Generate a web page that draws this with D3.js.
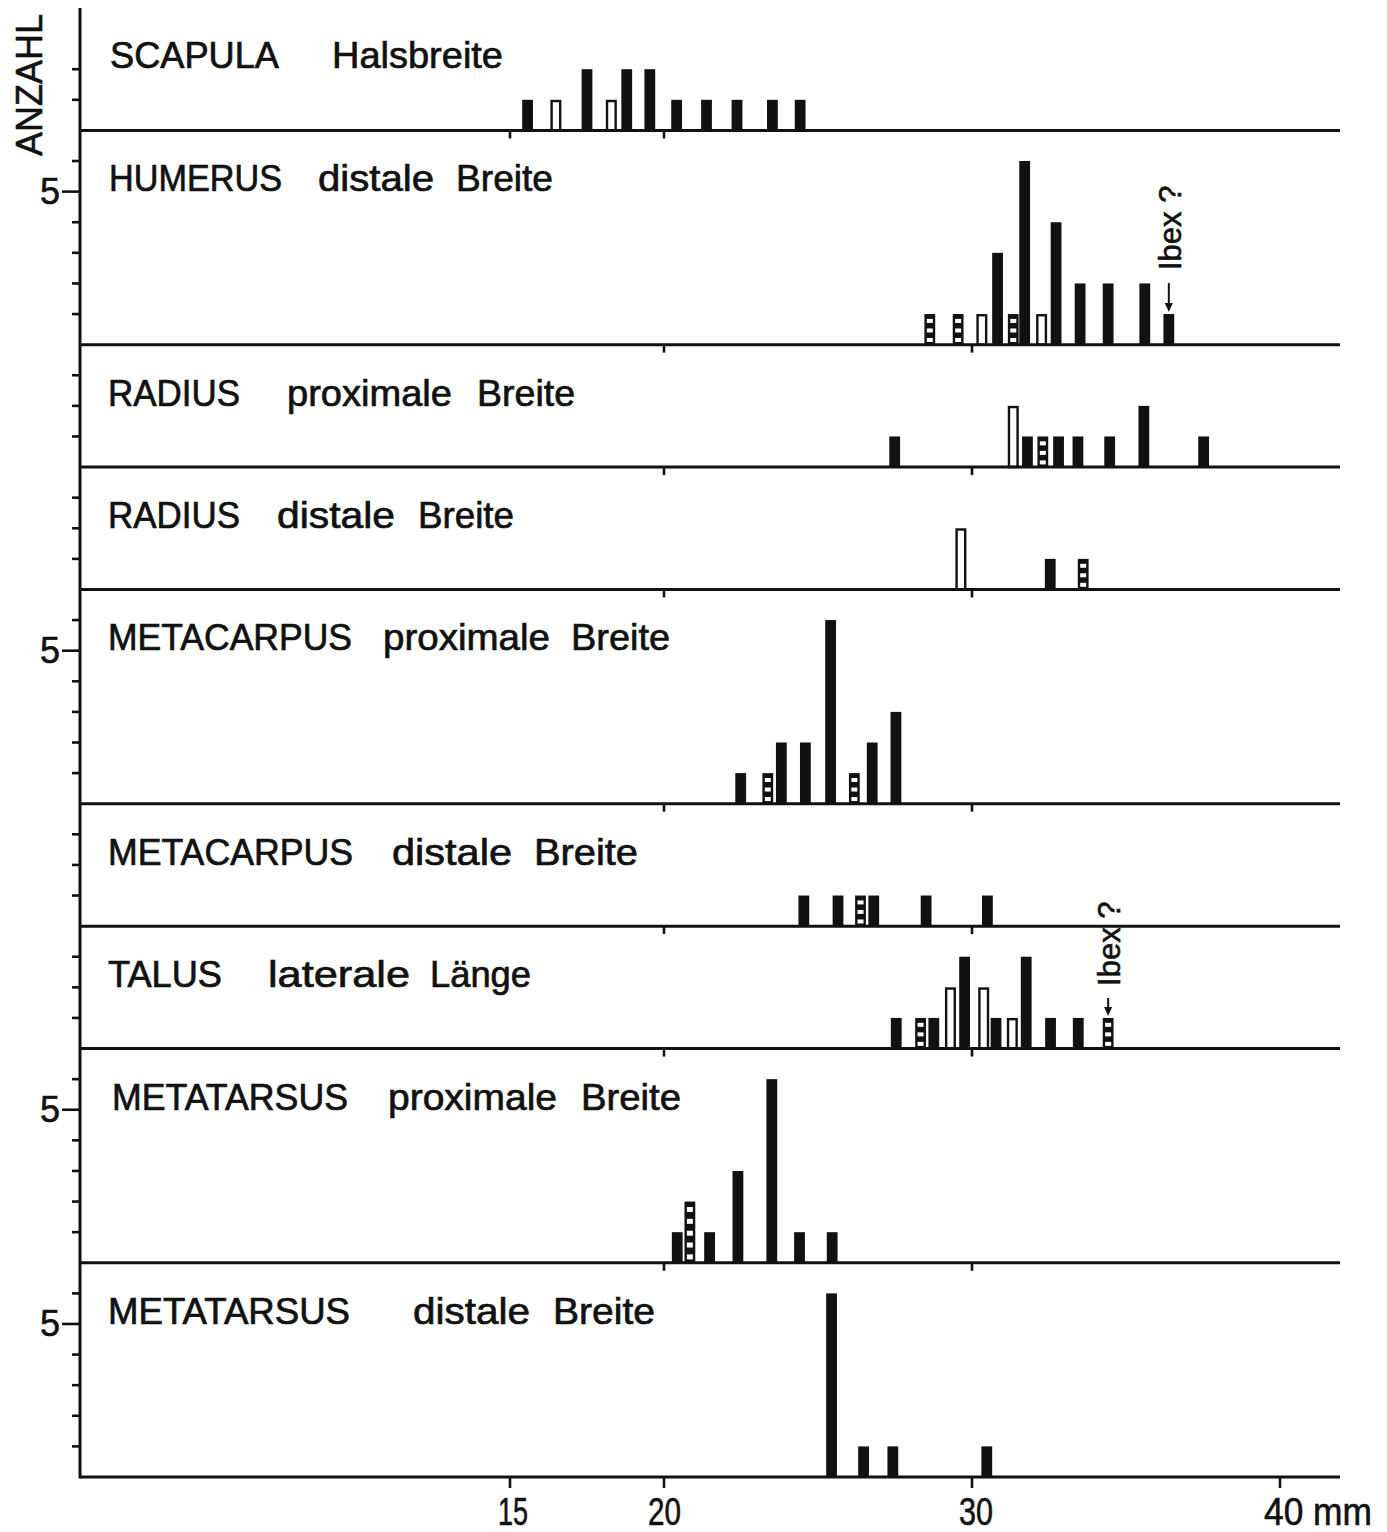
<!DOCTYPE html>
<html>
<head>
<meta charset="utf-8">
<script src="https://cdn.jsdelivr.net/npm/d3@7"></script>
<style>
  body { margin: 0; background: #fff; }
  svg { display: block; }
</style>
</head>
<body>
<svg id="chart" width="1387" height="1532"></svg>
<script>
// ---------------- DATA ----------------
const panelKeys = ["scapula", "humerus", "radiusProx", "radiusDist", "mcProx", "mcDist", "talus", "mtProx", "mtDist"];
const panelWords = [
  ["SCAPULA", "Halsbreite"],
  ["HUMERUS", "distale", "Breite"],
  ["RADIUS", "proximale", "Breite"],
  ["RADIUS", "distale", "Breite"],
  ["METACARPUS", "proximale", "Breite"],
  ["METACARPUS", "distale", "Breite"],
  ["TALUS", "laterale", "Länge"],
  ["METATARSUS", "proximale", "Breite"],
  ["METATARSUS", "distale", "Breite"]
];
const panelMaxCount = [4, 7, 4, 4, 7, 4, 4, 7, 7];
const panelCountTicks = [
  [1, 2],
  [1, 2, 3, 4, 5, 6],
  [1, 2, 3],
  [1, 2, 3],
  [1, 2, 3, 4, 5, 6],
  [1, 2, 3],
  [1, 2, 3],
  [1, 2, 3, 4, 5, 6],
  [1, 2, 3, 4, 5, 6]
];
const countLabel = 5;
const yTitle = "ANZAHL";

// Bars: measurement class position (mm), count, type (b = black, w = white, s = striped)
const scapulaMM   = [15.57, 16.49, 17.5, 18.29, 18.79, 19.54, 20.41, 21.38, 22.37, 23.52, 24.42];
const scapulaN    = [1, 1, 2, 1, 2, 2, 1, 1, 1, 1, 1];
const scapulaType = ["b", "w", "b", "w", "b", "b", "b", "b", "b", "b", "b"];

const humerusMM   = [28.63, 29.55, 30.32, 30.83, 31.34, 31.71, 32.26, 32.73, 33.51, 34.42, 35.61, 36.39];
const humerusN    = [1, 1, 1, 3, 1, 6, 1, 4, 2, 2, 2, 1];
const humerusType = ["s", "s", "w", "b", "s", "b", "w", "b", "b", "b", "b", "b"];

const radiusProxMM   = [27.49, 31.34, 31.8, 32.3, 32.81, 33.44, 34.47, 35.58, 37.52];
const radiusProxN    = [1, 2, 1, 1, 1, 1, 1, 2, 1];
const radiusProxType = ["b", "w", "b", "s", "b", "b", "b", "b", "b"];

const radiusDistMM   = [29.64, 32.54, 33.61];
const radiusDistN    = [2, 1, 1];
const radiusDistType = ["w", "b", "s"];

const mcProxMM   = [22.49, 23.37, 23.81, 24.59, 25.41, 26.18, 26.76, 27.53];
const mcProxN    = [1, 1, 2, 2, 6, 1, 2, 3];
const mcProxType = ["b", "s", "b", "b", "b", "s", "b", "b"];

const mcDistMM   = [24.54, 25.65, 26.38, 26.81, 28.51, 30.5];
const mcDistN    = [1, 1, 1, 1, 1, 1];
const mcDistType = ["b", "b", "s", "b", "b", "b"];

const talusMM   = [27.54, 28.33, 28.76, 29.3, 29.76, 30.38, 30.78, 31.31, 31.76, 32.55, 33.45, 34.42];
const talusN    = [1, 1, 1, 2, 3, 2, 1, 1, 3, 1, 1, 1];
const talusType = ["b", "s", "b", "w", "b", "w", "b", "w", "b", "b", "b", "s"];

const mtProxMM   = [20.43, 20.84, 21.48, 22.4, 23.5, 24.4, 25.46];
const mtProxN    = [1, 2, 1, 3, 6, 1, 1];
const mtProxType = ["b", "s", "b", "b", "b", "b", "b"];

const mtDistMM   = [25.44, 26.48, 27.43, 30.48];
const mtDistN    = [6, 1, 1, 1];
const mtDistType = ["b", "b", "b", "b"];

const xTickValues = [15, 20, 30, 40];
const xTickLabels = ["15", "20", "30", "40 mm"];

const ibexPanels = ["humerus", "talus"];
const ibexMM = [36.39, 34.42];
const ibexText = "Ibex ?";

const panelData = {
  scapula: [scapulaMM, scapulaN, scapulaType],
  humerus: [humerusMM, humerusN, humerusType],
  radiusProx: [radiusProxMM, radiusProxN, radiusProxType],
  radiusDist: [radiusDistMM, radiusDistN, radiusDistType],
  mcProx: [mcProxMM, mcProxN, mcProxType],
  mcDist: [mcDistMM, mcDistN, mcDistType],
  talus: [talusMM, talusN, talusType],
  mtProx: [mtProxMM, mtProxN, mtProxType],
  mtDist: [mtDistMM, mtDistN, mtDistType]
};

// ---------------- LAYOUT ----------------
const axisX = 80, lineEndX = 1340, topY = 8, bottomY = 1477;
const font = "'Liberation Sans', Arial, sans-serif";
const wordX = [
  [110, 332],
  [109, 318, 456],
  [108, 287, 477],
  [108, 277, 418],
  [108, 383, 571],
  [108, 392, 534],
  [108, 268, 430],
  [112, 388, 581],
  [108, 413, 553]
];
const wordW = [
  [169, 171],
  [173, 116, 97],
  [132, 165, 98],
  [132, 118, 96],
  [244, 167, 99],
  [245, 120, 104],
  [114, 142, 101],
  [236, 169, 100],
  [242, 117, 102]
];

const svg = d3.select("#chart");
const x = d3.scaleLinear().domain([20, 40]).range([664, 1280]);
const totalCounts = d3.sum(panelMaxCount);
const y = d3.scaleLinear().domain([0, totalCounts]).range([bottomY, topY]);

// count offset of each panel's baseline (from the bottom)
const offsets = panelMaxCount.map((_, i) => d3.sum(panelMaxCount.slice(i + 1)));

const g = svg.append("g");

panelKeys.forEach((key, i) => {
  const off = offsets[i];
  const base = y(off);
  const top = y(off + panelMaxCount[i]);
  const pg = g.append("g").attr("class", "panel-" + key);

  // left count ticks
  pg.selectAll("line.ytick").data(panelCountTicks[i]).join("line")
    .attr("class", "ytick")
    .attr("x1", d => d === countLabel ? axisX - 18 : axisX - 8)
    .attr("x2", axisX)
    .attr("y1", d => y(off + d)).attr("y2", d => y(off + d))
    .attr("stroke", "#111").attr("stroke-width", 2.6);
  pg.selectAll("text.ylab").data(panelCountTicks[i].filter(d => d === countLabel)).join("text")
    .attr("class", "ylab")
    .attr("x", axisX - 20).attr("y", d => y(off + d))
    .attr("text-anchor", "end").attr("dominant-baseline", "central")
    .attr("font-family", font).attr("font-size", 36).attr("fill", "#111")
    .attr("stroke", "#111").attr("stroke-width", 0.6)
    .text(d => d);

  // small ticks under the baseline
  const subT = i === panelKeys.length - 1 ? [] : (i === 0 ? [15, 20] : [20, 30]);
  pg.selectAll("line.xsub").data(subT).join("line")
    .attr("class", "xsub")
    .attr("x1", d => x(d)).attr("x2", d => x(d))
    .attr("y1", base).attr("y2", base + 8)
    .attr("stroke", "#111").attr("stroke-width", 2.6);

  // bars
  const [mm, n, type] = panelData[key];
  const bars = mm.map((v, j) => ({ v, n: n[j], t: type[j] }));
  bars.forEach(b => {
    const cx = x(b.v);
    const y1 = y(off + b.n);
    const h = base - y1;
    if (b.t === "w") {
      pg.append("rect")
        .attr("x", cx - 4.3).attr("y", y1 + 1.2)
        .attr("width", 8.6).attr("height", h - 1.2)
        .attr("fill", "#fff").attr("stroke", "#111").attr("stroke-width", 2.4);
    } else {
      pg.append("rect")
        .attr("x", cx - 5.4).attr("y", y1)
        .attr("width", 10.8).attr("height", h)
        .attr("fill", "#111");
      if (b.t === "s") {
        const k = Math.max(3, Math.round(h / 12));
        const p = (h - 2) / k;
        d3.range(k).forEach(q => {
          pg.append("rect")
            .attr("x", cx - 3).attr("y", y1 + 2.5 + q * p + p * 0.25)
            .attr("width", 6).attr("height", p * 0.42)
            .attr("fill", "#fff");
        });
      }
    }
  });

  // baseline
  pg.append("line")
    .attr("x1", axisX).attr("x2", lineEndX)
    .attr("y1", base).attr("y2", base)
    .attr("stroke", "#111").attr("stroke-width", 3);

  // label words
  panelWords[i].forEach((w, j) => {
    pg.append("text")
      .attr("x", wordX[i][j]).attr("y", top + 61 - (i === 0 ? 1 : 0))
      .attr("textLength", wordW[i][j]).attr("lengthAdjust", "spacingAndGlyphs")
      .attr("font-family", font).attr("font-size", 37).attr("fill", "#111")
      .attr("stroke", "#111").attr("stroke-width", 0.7)
      .text(w);
  });

  // Ibex annotation
  const ai = ibexPanels.indexOf(key);
  if (ai >= 0) {
    const bi = mm.indexOf(ibexMM[ai]);
    const cx = x(ibexMM[ai]);
    const barTop = y(off + n[bi]);
    const arrowLen = key === "humerus" ? 28 : 17;
    const gap = key === "humerus" ? 13 : 12;
    pg.append("line")
      .attr("x1", cx).attr("x2", cx)
      .attr("y1", barTop - 3 - arrowLen).attr("y2", barTop - 8)
      .attr("stroke", "#111").attr("stroke-width", 2);
    pg.append("path")
      .attr("d", `M${cx - 4},${barTop - 11} L${cx + 4},${barTop - 11} L${cx},${barTop - 2} Z`)
      .attr("fill", "#111");
    const ty = barTop - 3 - arrowLen - gap;
    pg.append("text")
      .attr("transform", `translate(${cx + 12},${ty}) rotate(-90)`)
      .attr("font-family", font).attr("font-size", 31).attr("fill", "#111")
      .attr("stroke", "#111").attr("stroke-width", 0.6)
      .text(ibexText);
  }
});

// left vertical axis
g.append("line")
  .attr("x1", axisX).attr("x2", axisX)
  .attr("y1", topY).attr("y2", bottomY + 1.5)
  .attr("stroke", "#111").attr("stroke-width", 3);

// y title
g.append("text")
  .attr("transform", `translate(42, 85) rotate(-90)`)
  .attr("text-anchor", "middle")
  .attr("font-family", font).attr("font-size", 36).attr("fill", "#111")
  .attr("stroke", "#111").attr("stroke-width", 0.6)
  .text(yTitle);

// bottom x axis ticks and labels
const xAxisG = g.append("g");
xAxisG.selectAll("line").data(xTickValues).join("line")
  .attr("x1", d => x(d)).attr("x2", d => x(d))
  .attr("y1", bottomY).attr("y2", bottomY + 11)
  .attr("stroke", "#111").attr("stroke-width", 2.6);
const labelWidths = [30, 33, 34, 108];
const labelStart = [498, 648, 959, 1264];
xAxisG.selectAll("text").data(xTickLabels).join("text")
  .attr("x", (d, i) => labelStart[i])
  .attr("y", 1525)
  .attr("textLength", (d, i) => labelWidths[i])
  .attr("lengthAdjust", "spacingAndGlyphs")
  .attr("font-family", font).attr("font-size", 38).attr("fill", "#111")
  .attr("stroke", "#111").attr("stroke-width", 0.6)
  .text(d => d);
</script>
</body>
</html>
